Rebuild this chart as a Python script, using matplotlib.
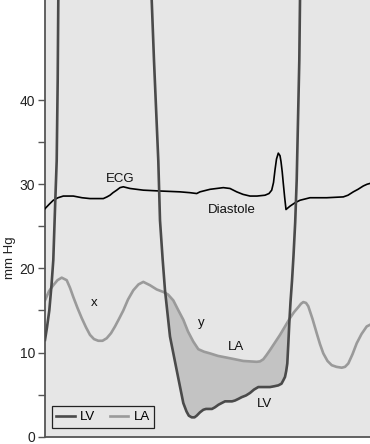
import matplotlib
matplotlib.use("Agg")
import matplotlib.pyplot as plt
import numpy as np

plt.rcParams['font.family'] = ['Liberation Sans', 'DejaVu Sans']

# time axis (arbitrary units), pressures in mm Hg
lv_time = [0, 2, 4.3, 6.5, 8.3, 10.3, 11.7, 12.7, 13.3, 13.8,
           106.5, 106.7, 109, 113.3, 115, 117.7, 120, 125, 131.7, 138.3,
           141.5, 143.8, 146.7, 149.5, 151.7, 155, 158.3, 161, 163.3, 167,
           170, 173.5, 176.7, 180, 183.3, 187, 190, 193.5, 196.7, 201,
           205, 209, 213.3, 219, 225, 229.5, 233.3, 236.5, 238.3, 240,
           241.2, 242.3, 243.3, 244.3, 245.5, 247, 248.5, 250.2, 251.7, 254.3, 255, 255.3]
lv_mmhg = [11.5, 13.0, 15.0, 18.0, 21.0, 28.1, 32.8, 42.4, 51.9, 56,
           56, 51.9, 44.7, 32.8, 25.7, 21.0, 17.4, 11.9, 7.9, 4.0,
           3.0, 2.5, 2.3, 2.3, 2.5, 2.9, 3.2, 3.3, 3.3, 3.3,
           3.5, 3.8, 4.0, 4.2, 4.2, 4.2, 4.3, 4.5, 4.7, 4.9,
           5.2, 5.6, 5.9, 5.9, 5.9, 6.0, 6.1, 6.3, 6.7, 7.1,
           7.8, 8.7, 11.0, 13.5, 16.0, 18.5, 21.5, 25.5, 30.5, 44.7, 51.9, 56]

la_time = [0, 4, 8.3, 12.5, 16.7, 21.7, 25, 28.3, 32.5, 36.7, 41, 45,
           49, 53.3, 57.5, 61.7, 66, 70, 74, 78.3, 83, 88.3, 93.5, 98.3,
           105, 111.7, 118.3, 123, 128.3, 133, 138.3, 143, 148.3, 153.3,
           159, 165, 173, 181.7, 190, 198.3, 205, 211.7, 215, 218.3, 221.5,
           225, 230, 235, 240, 245, 249, 253.3, 256, 258.3, 261, 263.3,
           267.5, 271.7, 275, 278.3, 282.5, 286.7, 291.5, 296.7, 300,
           303.3, 307.5, 311.7, 316.5, 321.7, 325]
la_mmhg = [16.2, 17.3, 18.0, 18.6, 18.9, 18.6, 17.7, 16.6, 15.3, 14.1, 13.0, 12.1,
           11.6, 11.4, 11.4, 11.7, 12.3, 13.1, 14.0, 15.0, 16.3, 17.4, 18.1, 18.4,
           18.0, 17.5, 17.2, 16.9, 16.2, 15.1, 13.9, 12.5, 11.3, 10.4,
           10.1, 9.9, 9.6, 9.4, 9.2, 9.0, 8.95, 8.9, 8.95, 9.2, 9.7,
           10.3, 11.2, 12.1, 13.1, 14.1, 14.8, 15.4, 15.8, 16.0, 15.9, 15.5,
           14.0, 12.3, 11.0, 9.9, 9.0, 8.5, 8.3, 8.2, 8.3,
           8.7, 9.8, 11.1, 12.2, 13.1, 13.3]

ecg_time = [0, 4, 8.3, 13, 18.3, 28.3, 37, 45, 58.3, 62, 65, 68, 71.7, 75, 78.3,
            85, 98.3, 115, 135, 145, 151.7, 155, 165, 178.3, 185, 191.7, 198,
            205, 212, 220, 224, 226.7, 228.5, 230, 231.5, 233.3, 235, 236,
            237.2, 238.3, 239.7, 241, 243, 245, 250, 255, 265, 281.7, 298.3,
            303, 308.3, 313, 318.3, 322, 325]
ecg_mmhg = [27.1, 27.6, 28.1, 28.4, 28.6, 28.6, 28.4, 28.3, 28.3, 28.5, 28.7, 29.0,
            29.3, 29.6, 29.7, 29.5, 29.3, 29.2, 29.1, 29.0, 28.9, 29.1, 29.4, 29.6,
            29.5, 29.1, 28.8, 28.6, 28.6, 28.7, 28.9, 29.3, 30.2, 31.7, 33.0,
            33.7, 33.4, 32.7, 31.5, 30.1, 28.4, 27.0, 27.2, 27.4, 27.8, 28.1,
            28.4, 28.4, 28.5, 28.7, 29.1, 29.4, 29.8, 30.0, 30.1]

y_ticks = [0, 10, 20, 30, 40]
y_minor = [5, 15, 25, 35]

fig = plt.figure(figsize=(3.70, 4.44), dpi=100)
ax = fig.add_axes([45/370, 7.3/444, 325/370, 436.7/444])
ax.set_facecolor('#e6e6e6')

lv_color = '#4a4a4a'
la_color = '#9a9a9a'

# shaded diastolic filling area: LA above LV
lt = np.array(la_time); lm = np.array(la_mmhg)
vt = np.array(lv_time); vm = np.array(lv_mmhg)
t0, t1 = 120.0, 244.5
sel_la = (lt >= t0) & (lt <= t1)
sel_lv = (vt >= t0) & (vt <= t1)
poly_x = np.concatenate([lt[sel_la], vt[sel_lv][::-1]])
poly_y = np.concatenate([lm[sel_la], vm[sel_lv][::-1]])
ax.fill(poly_x, poly_y, color='#c3c3c3', zorder=1, lw=0)

ax.plot(ecg_time, ecg_mmhg, color='black', lw=1.2, zorder=3, solid_joinstyle='round')
ax.plot(la_time, la_mmhg, color=la_color, lw=1.9, zorder=2, label='LA', solid_joinstyle='round')
ax.plot(lv_time, lv_mmhg, color=lv_color, lw=1.9, zorder=4, label='LV', solid_joinstyle='round')

ax.set_xlim(0, 325)
ax.set_ylim(0, 51.9)
ax.set_xticks([])
ax.set_yticks(y_ticks)
ax.set_yticks(y_minor, minor=True)
ax.tick_params(axis='y', which='both', length=5, width=1, color='#555555',
               labelsize=10, pad=2, labelcolor='#222222')
ax.set_ylabel('mm Hg', fontsize=9.5, color='#222222')
ax.yaxis.set_label_coords(-0.088, 0.41)
for s in ['top', 'right']:
    ax.spines[s].set_visible(False)
ax.spines['left'].set_color('#555555')
ax.spines['left'].set_linewidth(1.3)
ax.spines['bottom'].set_color('#555555')
ax.spines['bottom'].set_linewidth(1.3)

tk = dict(fontsize=9.5, color='#111111', ha='center', va='center')
ax.text(75, 30.6, 'ECG', **tk)
ax.text(187, 26.9, 'Diastole', **tk)
ax.text(49, 15.9, 'x', **tk)
ax.text(156, 13.5, 'y', **tk)
ax.text(191, 10.7, 'LA', **tk)
ax.text(220, 3.9, 'LV', **tk)

h, l = ax.get_legend_handles_labels()
leg = ax.legend(h[::-1], l[::-1], loc='lower left', bbox_to_anchor=(0.02, 0.02),
                borderaxespad=0, ncol=2, fontsize=9.5, frameon=True, fancybox=False,
                edgecolor='#222222', facecolor='#e6e6e6', framealpha=1,
                handlelength=1.4, columnspacing=1.1, handletextpad=0.4,
                borderpad=0.35)
leg.get_frame().set_linewidth(0.9)

fig.savefig('out.png', dpi=100)
